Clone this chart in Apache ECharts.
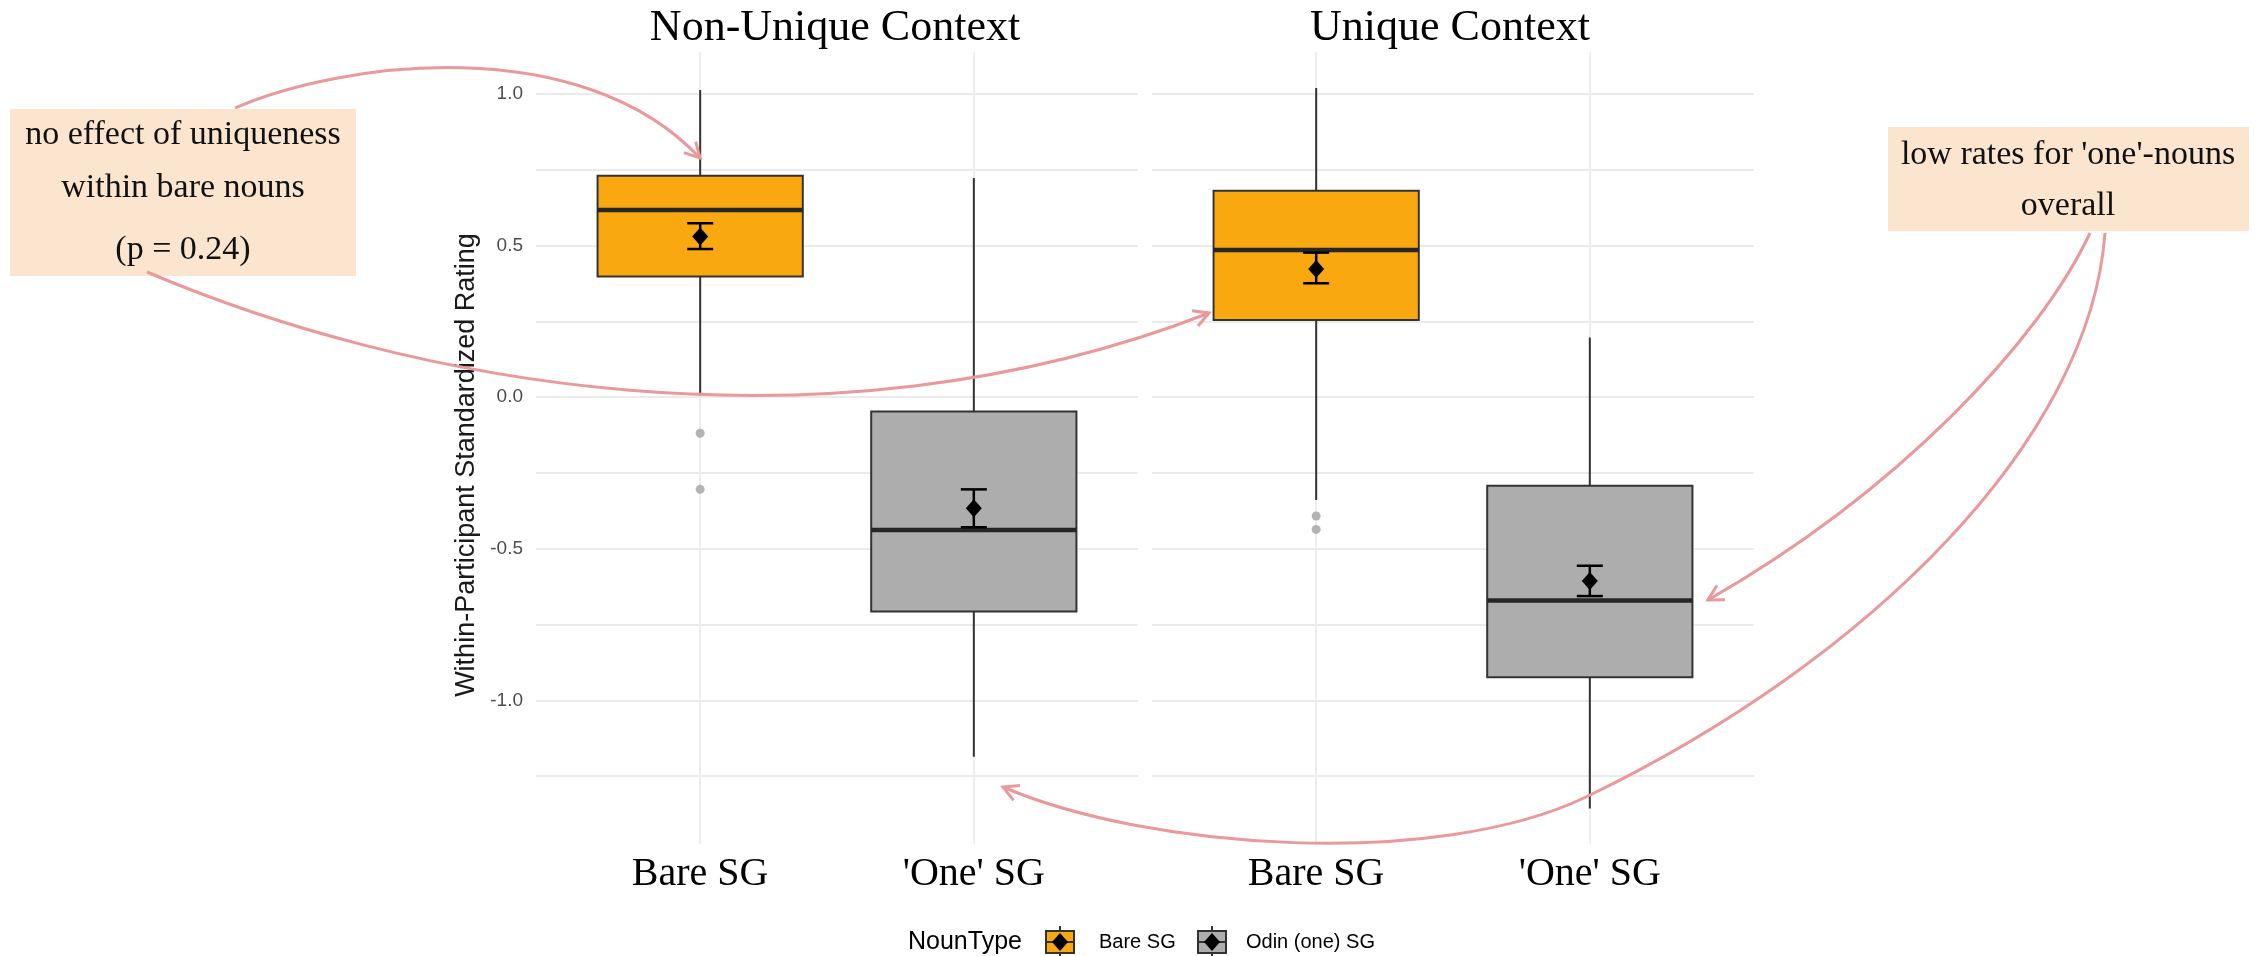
<!DOCTYPE html>
<html><head><meta charset="utf-8">
<script src="https://cdn.jsdelivr.net/npm/echarts@6/dist/echarts.min.js"></script>
<style>html,body{margin:0;padding:0;background:#fff}#c{width:2261px;height:956px}</style>
</head><body><div id="c"></div>
<script>
// ---------- data ----------
const panelTitles = ['Non-Unique Context', 'Unique Context'];
const categories = ['Bare SG', "'One' SG"];
const legendTitle = 'NounType';
const legendLabels = ['Bare SG', 'Odin (one) SG'];
// [lower whisker, Q1, median, Q3, upper whisker] per category
const boxNonUnique = [[0.005, 0.398, 0.618, 0.731, 1.014], [-1.186, -0.707, -0.438, -0.047, 0.723]];
const boxUnique = [[-0.339, 0.255, 0.486, 0.681, 1.020], [-1.357, -0.924, -0.671, -0.292, 0.197]];
const meanNonUnique = [0.530, -0.366];
const meanUnique = [0.423, -0.606];
const errNonUnique = [[0.489, 0.574], [-0.429, -0.304]];
const errUnique = [[0.376, 0.477], [-0.656, -0.556]];
const outliersNonUnique = [[0, -0.119], [0, -0.304]];
const outliersUnique = [[0, -0.392], [0, -0.436]];
const yTickValues = [-1.0, -0.5, 0.0, 0.5, 1.0];
const yGridValues = [-1.25, -1.0, -0.75, -0.5, -0.25, 0, 0.25, 0.5, 0.75, 1.0];
const annotationLeft = ['no effect of uniqueness', 'within bare nouns', '(p = 0.24)'];
const annotationRight = ["low rates for 'one'-nouns", 'overall'];

// ---------- styles ----------
const fills = ['#F9A90F', '#ADADAD'];
const arrowColor = '#E9999B';
const noteFill = '#FCE5CF';
const SERIF = 'Liberation Serif';
const SANS = 'Liberation Sans';

function buildRows(box, mean, err) {
  return box.map((b, i) => [i, b[0], b[1], b[2], b[3], b[4], mean[i], err[i][0], err[i][1]]);
}
const panelRows = [buildRows(boxNonUnique, meanNonUnique, errNonUnique), buildRows(boxUnique, meanUnique, errUnique)];
const panelOutliers = [outliersNonUnique, outliersUnique];

function renderBox(params, api) {
  const x = api.value(0);
  const lo = api.coord([x, api.value(1)]);
  const q1 = api.coord([x, api.value(2)]);
  const med = api.coord([x, api.value(3)]);
  const q3 = api.coord([x, api.value(4)]);
  const hi = api.coord([x, api.value(5)]);
  const mn = api.coord([x, api.value(6)]);
  const eLo = api.coord([x, api.value(7)]);
  const eHi = api.coord([x, api.value(8)]);
  const bw = api.size([0.75, 0])[0];
  const cw = api.size([0.095, 0])[0];
  const cx = lo[0];
  const dark = '#333333';
  return {
    type: 'group',
    children: [
      {type: 'line', shape: {x1: cx, y1: hi[1], x2: cx, y2: lo[1]}, style: {stroke: dark, lineWidth: 2}},
      {type: 'rect', shape: {x: cx - bw / 2, y: q3[1], width: bw, height: q1[1] - q3[1]},
        style: {fill: fills[x], stroke: dark, lineWidth: 2}},
      {type: 'line', shape: {x1: cx - bw / 2, y1: med[1], x2: cx + bw / 2, y2: med[1]}, style: {stroke: '#262626', lineWidth: 4.5}},
      {type: 'line', shape: {x1: cx, y1: eHi[1], x2: cx, y2: eLo[1]}, style: {stroke: '#000', lineWidth: 2.5}},
      {type: 'line', shape: {x1: cx - cw / 2, y1: eHi[1], x2: cx + cw / 2, y2: eHi[1]}, style: {stroke: '#000', lineWidth: 2.5}},
      {type: 'line', shape: {x1: cx - cw / 2, y1: eLo[1], x2: cx + cw / 2, y2: eLo[1]}, style: {stroke: '#000', lineWidth: 2.5}},
      {type: 'polygon', shape: {points: [[cx, mn[1] - 9], [cx + 8, mn[1]], [cx, mn[1] + 9], [cx - 8, mn[1]]]}, style: {fill: '#000'}}
    ]
  };
}

const grids = [
  {left: 536, top: 52, width: 602, height: 792},
  {left: 1152, top: 52, width: 602, height: 792}
];

const xAxes = grids.map((g, i) => ({
  type: 'value', gridIndex: i, min: -0.6, max: 1.6,
  axisLine: {show: false}, axisTick: {show: false}, splitLine: {show: false},
  axisLabel: {customValues: [0, 1], formatter: v => categories[Math.round(v)] || '',
    fontFamily: SERIF, fontSize: 40, color: '#000', margin: 10}
}));
const yAxes = grids.map((g, i) => ({
  type: 'value', gridIndex: i, min: -1.474, max: 1.139,
  axisLine: {show: false}, axisTick: {show: false}, splitLine: {show: false},
  axisLabel: {show: i === 0, customValues: yTickValues, formatter: v => v.toFixed(1),
    color: '#4d4d4d', fontSize: 19, fontFamily: SANS, margin: 13}
}));

const series = [];
grids.forEach((g, i) => {
  series.push({
    type: 'scatter', xAxisIndex: i, yAxisIndex: i, data: panelOutliers[i],
    symbolSize: 9, itemStyle: {color: '#b3b3b3', opacity: 1}, z: 2, silent: true,
    markLine: {
      silent: true, symbol: 'none', z: 1, animation: false,
      label: {show: false},
      lineStyle: {color: '#EBEBEB', width: 1.8, type: 'solid'},
      emphasis: {disabled: true},
      data: yGridValues.map(v => ({yAxis: v})).concat([{xAxis: 0}, {xAxis: 1}])
    }
  });
  series.push({
    type: 'custom', xAxisIndex: i, yAxisIndex: i, data: panelRows[i],
    renderItem: renderBox, z: 3, silent: true,
    encode: {x: 0, y: [1, 5]}
  });
});

// ---------- annotation arrows ----------
function arrowHead(ex, ey, cx, cy, len, ang) {
  const dx = ex - cx, dy = ey - cy, d = Math.hypot(dx, dy);
  const ux = dx / d, uy = dy / d;
  const pts = [];
  [ang, -ang].forEach(a => {
    const c = Math.cos(a), s = Math.sin(a);
    const rx = ux * c - uy * s, ry = ux * s + uy * c;
    pts.push([ex - rx * len, ey - ry * len]);
  });
  return {type: 'polyline', shape: {points: [pts[0], [ex, ey], pts[1]]},
    style: {stroke: arrowColor, lineWidth: 3, fill: null}, z: 20};
}
function curve(x1, y1, c1x, c1y, c2x, c2y, x2, y2) {
  return {type: 'bezierCurve', shape: {x1: x1, y1: y1, cpx1: c1x, cpy1: c1y, cpx2: c2x, cpy2: c2y, x2: x2, y2: y2},
    style: {stroke: arrowColor, lineWidth: 3, fill: null}, z: 20};
}
const arrows = [
  curve(235, 108, 340, 62, 580, 30, 700, 158), arrowHead(700, 158, 580, 30, 17, 0.5),
  curve(147, 272, 400, 380, 820, 465, 1209, 313), arrowHead(1209, 313, 820, 465, 17, 0.5),
  curve(2090, 233, 2040, 340, 1900, 490, 1708, 600), arrowHead(1708, 600, 1900, 490, 17, 0.5),
  curve(2105, 233, 2090, 440, 1870, 660, 1586, 797),
  curve(1586, 797, 1436, 869, 1150, 850, 1003, 787), arrowHead(1003, 787, 1150, 850, 17, 0.5)
];

// ---------- annotation boxes ----------
const noteLeft = {
  type: 'group', z: 30, children: [
    {type: 'rect', shape: {x: 10, y: 109, width: 346, height: 167}, style: {fill: noteFill}}
  ].concat(annotationLeft.map((t, k) => ({
    type: 'text', x: 183, y: [152, 205, 267][k],
    style: {text: t, font: '34px "' + SERIF + '"', fill: '#111', textAlign: 'center', textVerticalAlign: 'bottom'}
  })))
};
const noteRight = {
  type: 'group', z: 30, children: [
    {type: 'rect', shape: {x: 1888, y: 127, width: 361, height: 104}, style: {fill: noteFill}}
  ].concat(annotationRight.map((t, k) => ({
    type: 'text', x: 2068, y: [172, 223][k],
    style: {text: t, font: '34px "' + SERIF + '"', fill: '#111', textAlign: 'center', textVerticalAlign: 'bottom'}
  })))
};

// ---------- y axis title ----------
const yTitle = {
  type: 'text', x: 467, y: 465, rotation: Math.PI / 2, z: 10,
  style: {text: 'Within-Participant Standardized Rating', font: '27px "' + SANS + '"', fill: '#1a1a1a',
    textAlign: 'center', textVerticalAlign: 'middle'}
};

// ---------- legend ----------
function legendKey(cx, cy, fill) {
  return [
    {type: 'line', shape: {x1: cx, y1: cy - 16, x2: cx, y2: cy + 16}, style: {stroke: '#333', lineWidth: 2}},
    {type: 'rect', shape: {x: cx - 14, y: cy - 11, width: 28, height: 22}, style: {fill: fill, stroke: '#333', lineWidth: 2}},
    {type: 'line', shape: {x1: cx - 14, y1: cy, x2: cx + 14, y2: cy}, style: {stroke: '#333', lineWidth: 2}},
    {type: 'polygon', shape: {points: [[cx, cy - 9], [cx + 8, cy], [cx, cy + 9], [cx - 8, cy]]}, style: {fill: '#000'}}
  ];
}
const legendY = 942;
const legend = {
  type: 'group', z: 10, children: [
    {type: 'text', x: 908, y: legendY, style: {text: legendTitle, font: '25px "' + SANS + '"', fill: '#000', textVerticalAlign: 'middle'}}
  ].concat(legendKey(1060, legendY, fills[0])).concat([
    {type: 'text', x: 1099, y: legendY, style: {text: legendLabels[0], font: '20px "' + SANS + '"', fill: '#000', textVerticalAlign: 'middle'}}
  ]).concat(legendKey(1212, legendY, fills[1])).concat([
    {type: 'text', x: 1246, y: legendY, style: {text: legendLabels[1], font: '20px "' + SANS + '"', fill: '#000', textVerticalAlign: 'middle'}}
  ])
};

const option = {
  animation: false,
  backgroundColor: '#fff',
  title: panelTitles.map((t, i) => ({
    text: t, left: [830, 1445][i], top: 1, textAlign: 'center',
    textStyle: {fontFamily: SERIF, fontSize: 44, fontWeight: 'normal', color: '#000'}
  })),
  grid: grids,
  xAxis: xAxes,
  yAxis: yAxes,
  series: series,
  graphic: [yTitle, legend].concat(arrows).concat([noteLeft, noteRight])
};

const chart = echarts.init(document.getElementById('c'), null, {renderer: 'canvas'});
chart.setOption(option);
</script>
</body></html>
